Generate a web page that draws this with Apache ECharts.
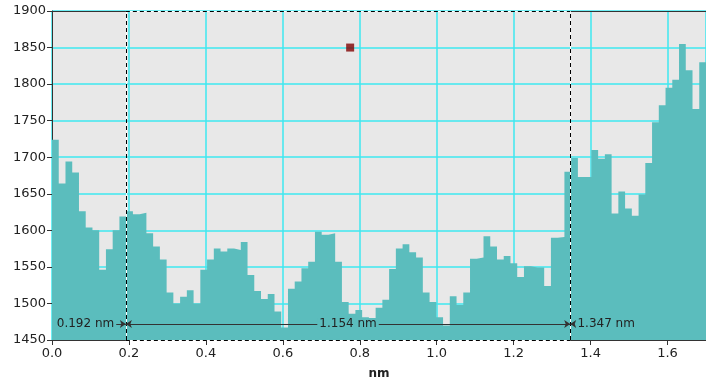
<!DOCTYPE html>
<html>
<head>
<meta charset="utf-8">
<script src="https://cdn.jsdelivr.net/npm/echarts@6/dist/echarts.min.js"></script>
<style>
  html, body { margin: 0; padding: 0; background: #fff; }
  #chart { width: 706px; height: 385px; }
</style>
</head>
<body>
<div id="chart"></div>
<script>
// profile heights, one value per bin, left to right
const heights = [
  1724, 1664, 1694, 1679, 1626, 1604, 1600, 1546, 1574, 1600,
  1619, 1626, 1622, 1624, 1596, 1578, 1560, 1515, 1500, 1509,
  1518, 1500, 1546, 1560, 1575, 1571, 1575, 1573, 1584, 1539,
  1517, 1506, 1513, 1489, 1467, 1520, 1530, 1548, 1557, 1598,
  1594, 1596, 1557, 1502, 1486, 1491, 1481, 1471, 1494, 1505,
  1547, 1575, 1581, 1570, 1563, 1515, 1502, 1481, 1470, 1510,
  1498, 1515, 1561, 1563, 1592, 1578, 1560, 1565, 1555, 1536,
  1551, 1549, 1549, 1524, 1590, 1591, 1680, 1699, 1673, 1673,
  1710, 1698, 1704, 1623, 1653, 1630, 1620, 1649, 1692, 1748,
  1771, 1795, 1806, 1855, 1819, 1766, 1830
]
const xRange = [0, 1.7]
const yRange = [1450, 1900]
const cursorA = 0.192
const cursorB = 1.347
const cursorSpan = 1.154
const arrowY = 1472
const marker = [0.775, 1850]

const binWidth = (xRange[1] - xRange[0]) / heights.length
const profile = heights.map((h, i) => [xRange[0] + i * binWidth, h])
profile.push([xRange[1], heights[heights.length - 1]])

// the cursor box, as four edges
const boxEdges = [
  [[cursorA, yRange[1]], [cursorB, yRange[1]]],
  [[cursorA, yRange[0]], [cursorB, yRange[0]]],
  [[cursorA, yRange[0]], [cursorA, yRange[1]]],
  [[cursorB, yRange[0]], [cursorB, yRange[1]]]
].map(([a, b]) => [{ coord: a }, { coord: b }])

const chart = echarts.init(document.getElementById('chart'))
const textColor = '#222'
const font = 'DejaVu Sans'

const boxSeries = (color, type) => ({
  type: 'scatter',
  z: 5,
  data: [],
  markLine: {
    silent: true,
    symbol: ['none', 'none'],
    label: { show: false },
    lineStyle: { type, color, width: 1 },
    data: boxEdges
  }
})

chart.setOption({
  animation: false,
  grid: {
    left: 52, right: 0, top: 11, bottom: 44,
    show: true,
    backgroundColor: '#e8e8e8',
    borderWidth: 0
  },
  xAxis: [{
    type: 'value',
    min: xRange[0],
    max: xRange[1],
    interval: 0.2,
    name: 'nm',
    nameLocation: 'middle',
    nameGap: 28,
    nameTextStyle: { fontFamily: font, fontSize: 12, fontWeight: 'bold', color: textColor },
    axisLine: { show: true, lineStyle: { color: '#333' } },
    axisTick: { show: true, length: 5, lineStyle: { color: '#333' } },
    axisLabel: {
      fontFamily: font, fontSize: 13, color: textColor, margin: 7,
      showMaxLabel: false,
      formatter: v => v.toFixed(1)
    },
    splitLine: { show: true, lineStyle: { color: '#3ee8f0', width: 1.5 } }
  }, {
    // top frame line
    type: 'value',
    position: 'top',
    min: xRange[0],
    max: xRange[1],
    axisLine: { show: true, onZero: false, lineStyle: { color: '#333' } },
    axisTick: { show: false },
    axisLabel: { show: false },
    splitLine: { show: false }
  }],
  yAxis: {
    type: 'value',
    min: yRange[0],
    max: yRange[1],
    interval: 50,
    axisLine: { show: true, lineStyle: { color: '#333' } },
    axisTick: { show: true, length: 5, lineStyle: { color: '#333' } },
    axisLabel: { fontFamily: font, fontSize: 13, color: textColor, margin: 6, formatter: v => String(v) },
    splitLine: { show: true, lineStyle: { color: '#3ee8f0', width: 1.5 } }
  },
  series: [{
    type: 'line',
    step: 'end',
    data: profile,
    showSymbol: false,
    lineStyle: { width: 0 },
    areaStyle: { color: '#5bbdbd', opacity: 1, origin: 'start' }
  },
  boxSeries('#fff', 'solid'),
  boxSeries('#000', [4, 3]),
  {
    type: 'scatter',
    z: 6,
    data: [marker],
    symbol: 'rect',
    symbolSize: 8,
    itemStyle: { color: '#800000' },
    markLine: {
      silent: true,
      animation: false,
      symbolSize: 6,
      lineStyle: { type: 'solid', color: '#333', width: 1 },
      label: { fontFamily: font, fontSize: 12, color: textColor },
      data: [
        [{
          coord: [cursorA, arrowY], symbol: 'arrow',
          label: {
            position: 'middle', verticalAlign: 'middle', distance: 0,
            backgroundColor: '#5bbdbd', padding: [0, 2],
            formatter: cursorSpan.toFixed(3) + ' nm'
          }
        }, { coord: [cursorB, arrowY], symbol: 'arrow' }],
        [{
          coord: [0.167, arrowY], symbol: 'none',
          label: { position: 'start', distance: 2, formatter: cursorA.toFixed(3) + ' nm' }
        }, { coord: [cursorA, arrowY], symbol: 'arrow' }],
        [{
          coord: [cursorB, arrowY], symbol: 'arrow',
          label: { position: 'end', distance: 3, formatter: cursorB.toFixed(3) + ' nm' }
        }, { coord: [1.358, arrowY], symbol: 'none' }]
      ]
    }
  }]
})
</script>
</body>
</html>
